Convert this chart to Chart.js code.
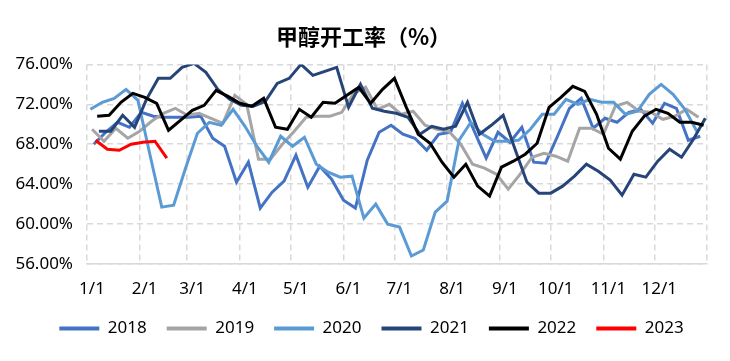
<!DOCTYPE html>
<html>
<head>
<meta charset="utf-8">
<script src="https://cdn.jsdelivr.net/npm/chart.js@4.4.0/dist/chart.umd.min.js"></script>
<style>
  html, body { margin: 0; padding: 0; background: #fff; }
  #wrap { width: 730px; height: 361px; }
</style>
</head>
<body>
<div id="wrap"><canvas id="myChart"></canvas></div>
<script>
const seriesNames = ['2018', '2019', '2020', '2021', '2022', '2023'];
const seriesColors = ['#4472C4', '#A5A5A5', '#5B9BD5', '#264478', '#000000', '#FF0000'];
// day of year of each series' first weekly reading
const startDays = [4, 3, 2, 7, 6, 5];

const rate2018 = [68.0, 69.2, 70.2, 69.7, 71.2, 70.8, 70.7, 70.7, 70.7, 70.8,
  68.6, 67.8, 64.2, 66.2, 61.6, 63.2, 64.3, 66.9, 63.7, 65.8,
  64.5, 62.4, 61.6, 66.4, 69.2, 69.9, 69.0, 68.6, 67.4, 69.0,
  69.2, 72.1, 69.3, 66.6, 69.2, 68.2, 69.7, 66.2, 66.1, 68.8,
  71.6, 72.6, 69.6, 70.6, 70.2, 71.2, 71.5, 70.1, 72.1, 71.6,
  68.4, 68.8];
const rate2019 = [69.5, 68.3, 69.6, 68.6, 69.3, 70.3, 71.1, 71.6, 70.9, 71.1,
  70.6, 70.1, 72.9, 72.0, 66.5, 66.5, 68.0, 69.3, 70.7, 70.8,
  70.8, 71.2, 73.1, 73.7, 71.5, 72.0, 71.0, 71.3, 69.9, 69.5,
  69.3, 68.0, 66.0, 65.6, 65.0, 63.5, 65.0, 66.7, 67.1, 66.8,
  66.3, 69.6, 69.6, 69.0, 71.8, 72.2, 71.3, 71.2, 70.5, 70.8,
  71.5, 70.7];
const rate2020 = [71.5, 72.2, 72.6, 73.5, 72.4, 67.0, 61.7, 61.9, 65.6, 69.1,
  70.2, 69.9, 71.5, 69.8, 67.8, 66.2, 68.8, 67.8, 68.7, 66.0,
  65.2, 64.7, 64.8, 60.6, 62.0, 60.0, 59.7, 56.8, 57.4, 61.2,
  62.3, 68.4, 70.2, 69.0, 68.3, 68.3, 68.4, 69.5, 71.0, 71.0,
  72.5, 72.0, 72.5, 72.2, 72.2, 71.0, 71.3, 73.0, 74.0, 73.0,
  71.5, 69.3];
const rate2021 = [69.3, 69.3, 70.9, 69.7, 72.5, 74.6, 74.6, 75.7, 76.1, 75.2,
  73.5, 72.5, 71.9, 71.8, 72.3, 74.1, 74.6, 76.0, 74.9, 75.3,
  75.7, 71.7, 74.0, 71.6, 71.3, 71.1, 70.7, 69.0, 69.8, 69.5,
  69.8, 72.2, 69.0, 69.9, 70.9, 67.5, 64.2, 63.1, 63.1, 63.8,
  64.8, 66.0, 65.3, 64.4, 62.9, 65.0, 64.7, 66.3, 67.5, 66.7,
  68.5, 70.6];
const rate2022 = [70.8, 70.9, 72.2, 73.1, 72.7, 72.1, 69.4, 70.4, 71.4, 71.9,
  73.4, 72.8, 72.1, 71.8, 72.6, 69.7, 69.5, 71.5, 70.7, 72.2,
  72.1, 72.9, 73.7, 72.1, 73.5, 74.6, 71.7, 69.0, 68.1, 66.2,
  64.7, 66.0, 63.8, 62.8, 65.7, 66.3, 67.0, 68.1, 71.7, 72.7,
  73.8, 73.3, 71.0, 67.6, 66.5, 69.3, 70.8, 71.5, 71.1, 70.2,
  70.2, 69.9];
const rate2023 = [68.4, 67.5, 67.4, 68.0, 68.2, 68.3, 66.6];

const monthDays = [0, 31, 59, 90, 120, 151, 181, 212, 243, 273, 304, 334, 365];
const monthLabels = ['1/1', '2/1', '3/1', '4/1', '5/1', '6/1', '7/1', '8/1', '9/1', '10/1', '11/1', '12/1', ''];

const allRates = [rate2018, rate2019, rate2020, rate2021, rate2022, rate2023];

const datasets = allRates.map((rates, i) => ({
  label: seriesNames[i],
  data: rates.map((v, k) => ({ x: startDays[i] + 7 * k, y: v })),
  borderColor: seriesColors[i],
  backgroundColor: seriesColors[i],
  borderWidth: 3,
  pointRadius: 0,
  tension: 0,
  fill: false,
  order: allRates.length - i
}));

const gridStyle = {
  color: '#D9D9D9',
  lineWidth: 1.5,
  drawTicks: false
};

// nudge title and legend to the right, as in the original layout
const shiftBoxes = {
  id: 'shiftBoxes',
  afterLayout(chart) {
    chart.titleBlock.left += 10;
    chart.titleBlock.right += 10;
    chart.legend.left += 18;
    chart.legend.right += 18;
  }
};

const config = {
  type: 'line',
  data: { datasets: datasets },
  options: {
    responsive: true,
    maintainAspectRatio: false,
    animation: false,
    layout: { padding: { left: 0, right: 23, top: 0, bottom: 14 } },
    plugins: {
      title: {
        display: true,
        text: '甲醇开工率（%）',
        color: '#000',
        font: { family: '"Noto Sans CJK SC"', size: 22, weight: 'bold' },
        padding: { top: 23, bottom: 15 }
      },
      legend: {
        position: 'bottom',
        labels: {
          color: '#000',
          font: { family: '"Noto Sans"', size: 17 },
          boxWidth: 40,
          boxHeight: 4,
          padding: 20,
          sort: (a, b) => a.datasetIndex - b.datasetIndex,
          generateLabels: chart => Chart.defaults.plugins.legend.labels.generateLabels(chart)
            .map(l => Object.assign(l, { lineWidth: 0 }))
        }
      },
      tooltip: { enabled: false }
    },
    scales: {
      x: {
        type: 'linear',
        min: 0,
        max: 365,
        afterBuildTicks: scale => { scale.ticks = monthDays.map(d => ({ value: d })); },
        afterFit: scale => { scale.height = 36; },
        ticks: {
          autoSkip: false,
          maxRotation: 0,
          padding: 15,
          labelOffset: 5,
          color: '#000',
          font: { family: '"Noto Sans"', size: 17 },
          callback: v => monthLabels[monthDays.indexOf(v)]
        },
        grid: Object.assign({ borderDash: [6, 4] }, gridStyle),
        border: { display: true, color: '#D9D9D9', width: 1.5, dash: [6, 4] }
      },
      y: {
        min: 56,
        max: 76,
        afterFit: scale => { scale.width = 87; },
        ticks: {
          stepSize: 4,
          padding: 14,
          color: '#000',
          font: { family: '"Noto Sans"', size: 17 },
          callback: v => v.toFixed(2) + '%'
        },
        grid: gridStyle,
        border: { display: false, dash: [6, 4] }
      }
    }
  },
  plugins: [shiftBoxes]
};

const myChart = new Chart(document.getElementById('myChart'), config);
</script>
</body>
</html>
